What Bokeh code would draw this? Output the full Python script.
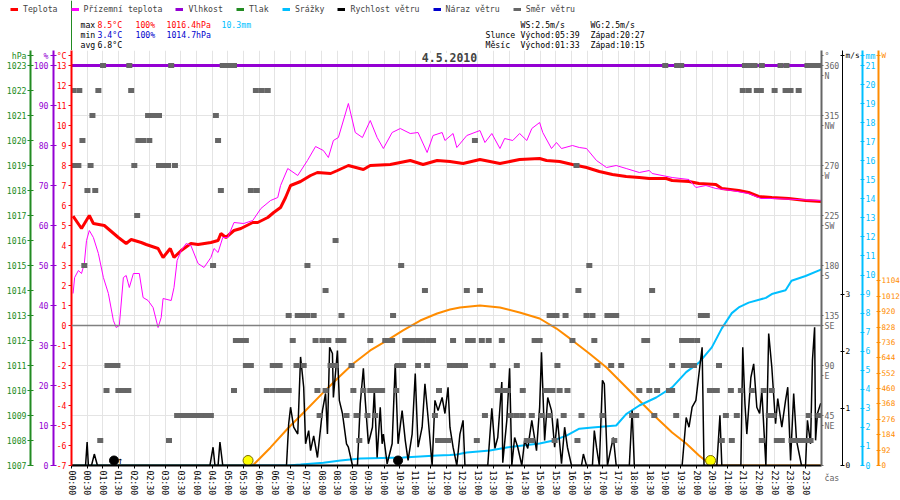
from bokeh.plotting import figure
from bokeh.layouts import column
from bokeh.models import (Range1d, LinearAxis, FixedTicker, Label, Legend, LegendItem,
                          Span, Grid)
from bokeh.embed import file_html
from bokeh.resources import INLINE

FONT = "DejaVu Sans Mono"
FS = "8.2px"

# ---------------- data ----------------
temp_h = [0.05,0.32,0.57,0.70,1.05,1.50,1.75,1.91,2.23,2.39,2.77,2.93,3.16,3.28,3.51,3.82,4.05,4.46,4.69,4.78,
          4.94,5.20,5.42,5.80,5.96,6.28,6.47,6.69,6.85,7.01,7.33,7.65,7.87,8.29,8.51,8.86,9.34,9.56,10.20,10.84,
          11.25,11.70,12.11,12.53,13.07,13.71,14.34,14.98,15.20,15.62,16.03,16.48,16.89,17.31,17.75,18.17,18.49,19.03,19.22,19.76,
          20.08,20.62,20.81,21.35,21.67,21.99,22.41,22.95,23.49,24.0]
temp_c = [5.47,4.85,5.5,5.1,5.0,4.4,4.1,4.3,4.15,4.05,3.85,3.4,3.85,3.4,3.75,4.1,4.05,4.15,4.25,4.6,
          4.4,4.75,4.85,5.15,5.15,5.4,5.65,5.9,6.4,7.0,7.2,7.5,7.65,7.6,7.75,8.0,7.8,8.0,8.05,8.25,
          8.05,8.25,8.2,8.1,8.3,8.1,8.3,8.35,8.25,8.2,8.05,7.9,7.7,7.55,7.45,7.4,7.35,7.35,7.25,7.2,
          7.1,7.05,6.85,6.75,6.65,6.45,6.4,6.35,6.25,6.2]

ground_h = [0.05,0.10,0.22,0.32,0.41,0.48,0.57,0.70,0.86,1.02,1.18,1.34,1.43,1.53,1.66,1.75,1.85,1.98,2.17,2.29,
            2.45,2.61,2.77,2.87,2.93,3.19,3.28,3.38,3.51,3.67,3.82,4.05,4.24,4.46,4.56,4.69,4.84,5.00,5.20,5.51,
            5.80,6.06,6.37,6.60,6.69,6.92,7.24,7.55,7.81,8.06,8.22,8.38,8.54,8.86,9.08,9.31,9.56,9.78,9.98,10.26,
            10.52,10.84,11.09,11.38,11.57,11.86,11.95,12.21,12.33,12.65,13.07,13.23,13.45,13.71,13.86,14.12,14.34,14.57,14.73,14.98,
            15.08,15.36,15.52,15.68,16.03,16.25,16.48,16.80,17.12,17.43,17.75,18.17,18.49,18.58,19.22,19.76,19.98,20.30,20.62,21.13,
            21.67,22.06,22.41,24.0]
ground_c = [1.6,2.4,2.75,2.6,3.1,4.25,4.75,4.4,3.6,2.4,1.6,0.25,-0.1,0.0,2.4,2.5,1.9,2.6,2.6,1.4,
            1.25,0.9,-0.1,0.4,1.35,1.25,1.9,3.25,3.75,4.1,4.0,3.1,2.9,3.4,3.85,3.65,4.4,4.4,5.15,5.1,
            5.25,5.85,6.25,6.4,7.0,7.85,7.5,8.25,8.95,8.75,8.4,9.25,9.4,11.1,9.65,9.4,10.25,9.4,8.85,9.65,
            9.85,9.6,9.65,8.65,9.5,9.65,9.25,9.6,8.9,9.5,9.75,9.15,9.6,8.85,9.35,9.25,9.6,9.25,9.85,10.15,
            9.65,8.85,9.15,8.85,9.0,8.9,8.85,8.25,7.9,8.0,7.85,7.65,7.75,7.6,7.4,7.3,6.9,7.0,6.85,6.75,
            6.6,6.35,6.35,6.25]

humidity_h = [0.0, 24.0]
humidity_pct = [100, 100]

rain_h = [0,6.92,7.33,8.06,8.61,9.24,10.61,11.70,12.11,12.33,12.65,13.39,13.93,14.98,15.39,15.84,16.25,16.67,17.43,17.75,
          18.17,18.71,19.22,19.67,20.08,20.49,20.81,21.13,21.35,21.67,22.22,22.41,22.85,23.04,23.49,24.0]
rain_mm = [0,0,0.05,0.15,0.26,0.37,0.42,0.52,0.55,0.58,0.68,0.79,0.95,1.15,1.3,1.57,1.93,2.0,2.1,2.7,
           3.15,3.57,4.1,4.9,5.4,6.2,7.2,8.0,8.3,8.55,8.8,9.0,9.2,9.7,9.95,10.3]

solar_h = [0,5.67,5.80,6.37,6.92,7.43,8.06,8.51,9.02,9.56,10.10,10.61,11.16,11.70,12.11,12.43,13.07,13.71,14.34,14.98,
           15.52,16.03,16.57,17.12,17.63,18.17,18.71,19.22,19.67,20.08,20.40,20.49,24.0]
solar_w = [0,0,0,108,221,317,437,520,610,688,748,808,867,909,933,945,957,945,915,879,
           819,748,670,586,490,389,287,197,132,60,12,0,0]

wind_h = [0,0.45,0.50,0.54,0.64,0.73,0.83,4.43,4.53,4.59,
          4.69,4.75,4.84,6.88,6.95,7.01,7.11,7.24,7.33,7.43,
          7.49,7.59,7.65,7.75,7.87,8.03,8.13,8.19,8.26,8.35,
          8.38,8.51,8.57,8.67,8.70,8.80,8.86,8.99,9.15,9.24,
          9.34,9.40,9.50,9.63,9.69,9.78,9.88,9.94,9.98,10.10,
          10.26,10.36,10.45,10.58,10.68,10.77,10.90,11.00,11.09,11.22,
          11.31,11.41,11.54,11.63,11.73,11.86,11.95,12.05,12.11,12.21,
          12.33,12.43,12.53,12.59,13.32,13.45,13.55,13.64,13.77,13.80,
          13.93,14.02,14.09,14.18,14.28,14.41,14.50,14.60,14.73,14.88,
          14.98,15.04,15.14,15.24,15.36,15.46,15.55,15.68,15.78,15.87,
          16.00,16.32,16.38,16.48,16.67,16.73,16.80,16.89,16.99,17.05,
          17.15,17.27,17.34,17.43,17.85,17.94,18.01,19.54,19.67,19.76,
          19.86,19.98,20.08,20.18,20.24,20.65,20.75,20.81,21.42,21.48,
          21.55,21.61,21.74,21.83,21.93,22.02,22.09,22.22,22.31,22.41,
          22.53,22.60,22.73,22.85,22.92,23.01,23.11,23.20,23.36,23.49,
          23.55,23.65,23.71,23.78,23.81,23.87,23.97,24.0]
wind_ms = [0,0,0.41,0,0,0.2,0,0,0.32,0,
           0,0.41,0,0,0.73,1.02,0.67,0.55,1.9,1.37,
           0.38,0.61,0.26,0.52,0.14,0.96,1.26,0.55,2.07,1.96,
           1.19,2.01,1.14,0.91,0.79,0.38,0.32,0,0,1.08,
           1.7,1.14,0.38,0.67,1.31,0.14,1.02,0.38,0.55,0.03,
           0.38,1.78,0.38,0.96,0.44,0.09,0.55,1.61,0.32,0.67,
           1.43,0.84,0,1.14,0.96,1.19,0.91,1.37,0.67,0.32,
           0,0.55,0.79,0,0,1.0,0.3,0.49,1.46,0.05,
           0.79,1.7,0,0.49,0.32,0,0.44,0.3,0.79,0.26,
           1.02,1.98,0.44,1.19,0.96,0.32,0.82,0.03,0.67,0.32,
           0,0,0.2,0,0,0.61,0.32,0,1.49,1.43,
           0,0.32,0.49,0,0,0.96,0,0,0.84,0.67,
           1.02,1.14,1.61,2.07,0,0,0.88,0,0,2.07,
           1.08,0.55,1.54,1.78,1.02,0.91,1.31,0,2.31,1.72,
           0.73,1.17,0.67,1.14,1.37,0.09,1.26,0.44,0,0,
           0.79,0.38,1.84,2.42,0.44,0.91,1.08,1.08]

# wind direction samples: compass direction (deg) -> times (h)
wind_dir_times = {
    360.0: [1.01,1.85,3.19,4.84,4.97,5.10,5.20,19.00,19.38,19.51,21.55,21.71,21.86,22.09,22.69,22.88,23.55,23.68,23.84,23.97],
    337.5: [0.06,0.25,0.86,1.91,5.90,6.09,6.28,21.48,21.67,21.93,22.06,22.50,22.85,23.01,23.27],
    315.0: [0.67,2.45,2.61,2.80,4.62],
    292.5: [0.35,2.14,2.29,2.49,4.69,12.91],
    270.0: [0.06,0.22,0.61,2.01,2.80,2.96,3.09,3.31,16.16],
    247.5: [0.51,0.76,4.78,5.74,5.93],
    225.0: [2.10],
    202.5: [8.45],
    180.0: [0.41,4.53,7.55,10.55,16.57],
    157.5: [8.13,11.31,12.65,13.07,16.22,18.58],
    135.0: [6.95,7.24,7.40,7.55,7.75,8.64,10.29,15.30,15.43,15.52,15.81,16.48,16.67,17.15,17.31,17.43,20.14,20.24,20.33],
    112.5: [5.26,5.42,5.58,7.08,7.81,8.03,8.22,8.54,8.70,9.56,10.04,10.17,10.26,10.68,10.84,10.96,11.09,11.22,11.41,11.57,
            12.21,12.69,12.84,13.13,13.35,13.77,14.82,14.98,16.03,16.73,18.33,18.42,19.54,19.70,19.83,20.02],
    90.0: [1.15,1.31,1.47,5.58,5.74,6.44,6.57,6.66,7.20,7.43,8.29,8.45,8.96,10.45,10.61,11.09,11.38,12.11,12.27,12.43,
           12.59,13.48,14.25,15.55,16.83,17.27,17.59,19.22,19.60,19.76,19.92,20.72],
    67.5: [1.12,1.50,1.66,1.82,5.20,6.25,6.44,6.63,6.79,6.95,7.87,8.13,9.02,9.34,9.56,9.69,9.82,9.94,10.39,11.76,
           13.64,13.80,13.96,14.44,15.17,15.30,15.39,15.62,15.87,18.17,18.49,18.74,19.12,19.22,20.43,20.56,20.65,21.10,21.42,21.77,
           22.15,22.41],
    45.0: [3.38,3.54,3.70,3.86,4.02,4.18,4.33,4.46,7.94,8.80,9.12,9.47,9.72,11.63,13.23,14.06,14.25,14.44,14.73,15.04,
           15.30,15.75,16.32,16.99,17.94,18.07,18.65,19.35,20.94,21.29,22.31,22.47,23.59,23.90],
    22.5: [0.92,3.12,9.21,11.73,11.89,12.05,12.97,14.57,14.73,15.46,16.19,17.37,20.81,21.13,22.09,22.57,22.73,23.04,23.20,23.36,
           23.52,23.65],
}

sun_events_h = [5.65, 20.45]      # sunrise 05:39, sunset 20:27 markers
moon_icon_h = [1.36, 10.45]       # moon markers as drawn
moonrise_h = 1.55                 # 01:33 arrow

hpa_ticks = list(range(1007, 1024))
hum_ticks = list(range(0, 101, 10))
temp_ticks = list(range(-7, 14))
dir_ticks = [45, 90, 135, 180, 225, 270, 315, 360]
dir_names = ["NE", "E", "SE", "S", "SW", "W", "NW", "N"]
wind_ticks = [0, 1, 2, 3]
mm_ticks = list(range(0, 22))
sun_ticks = list(range(0, 1105, 92))
time_ticks = [i * 0.5 for i in range(48)]
time_labels = ["%02d:%02d" % (int(t), int(round((t % 1) * 60))) for t in time_ticks]

legend_names = ["Teplota", "Přízemní teplota", "Vlhkost", "Tlak", "Srážky",
                "Rychlost větru", "Náraz větru", "Směr větru"]

# ---------------- colours ----------------
RED = "#ff0000"; MAG = "#ff00ff"; PURP = "#9400d3"; GREEN = "#228b22"
CYAN = "#00bfff"; BLACK = "#000000"; BLUE = "#0000cd"; GRAY = "#666666"
ORANGE = "#ff8c00"

# ---------------- geometry ----------------
HEAD_H = 50          # header strip (legend + stats)
DATA_H = 400         # px of the value scales
EXTRA = 15           # px of frame above the top of the scales
FRAME_W = 750
FRAME_H = DATA_H + EXTRA
BL, BR, BB = 71, 79, 35


def top(lo, hi, px=EXTRA):
    return hi + px * (hi - lo) / DATA_H


# ---------------- main figure ----------------
p = figure(frame_width=FRAME_W, frame_height=FRAME_H, output_backend="svg", toolbar_location=None,
           x_range=Range1d(0, 24), y_range=Range1d(-7, top(-7, 13)),
           min_border_left=BL, min_border_right=BR, min_border_top=0, min_border_bottom=BB,
           background_fill_color="white", border_fill_color="white", outline_line_color=None)
p.frame_align = False
p.extra_y_ranges = {
    "hum": Range1d(0, top(0, 100)),
    "hpa": Range1d(1007, top(1007, 1023)),
    "dir": Range1d(0, top(0, 360)),
    "wind": Range1d(0, top(0, 7)),
    "mm": Range1d(0, top(0, 21)),
    "sun": Range1d(0, top(0, 2392)),
}
HDR = 10  # unit captions sit 10 px above the top of the scales


def style_axis(ax, color, ticks, labels, tin=0, tout=3, standoff=1, lw=1, tick_color=None, fs=FS):
    ax.ticker = FixedTicker(ticks=ticks)
    ax.major_label_overrides = labels
    ax.axis_line_color = color
    ax.axis_line_width = lw
    ax.major_tick_line_color = color if tick_color is None else tick_color
    ax.major_tick_in = tin
    ax.major_tick_out = tout
    ax.minor_tick_line_color = None
    ax.minor_tick_in = 0
    ax.minor_tick_out = 0
    ax.major_label_text_color = color
    ax.major_label_text_font = FONT
    ax.major_label_text_font_size = fs
    ax.major_label_standoff = standoff


def ticks_with_caption(ticks, fmt, lo, hi, caption):
    cap = top(lo, hi, HDR)
    labels = {t: fmt % t for t in ticks}
    labels[cap] = caption
    return ticks + [cap], labels


# left axes (innermost first)
tt, tl = ticks_with_caption(temp_ticks, "%d", -7, 13, "°C")
style_axis(p.yaxis[0], RED, tt, tl, tin=0, tout=3, standoff=2, lw=2)
ax_h = LinearAxis(y_range_name="hum")
ht, hl = ticks_with_caption(hum_ticks, "%d", 0, 100, "%")
style_axis(ax_h, PURP, ht, hl, tin=3, tout=3, standoff=2, lw=2)
p.add_layout(ax_h, "left")
ax_p = LinearAxis(y_range_name="hpa")
pt, pl = ticks_with_caption(hpa_ticks, "%d", 1007, 1023, "hPa")
style_axis(ax_p, GREEN, pt, pl, tin=3, tout=3, standoff=1, lw=2)
p.add_layout(ax_p, "left")

# right axes
ax_d = LinearAxis(y_range_name="dir")
d_off = 10 * 360 / DATA_H
dt = list(dir_ticks) + [d - d_off for d in dir_ticks] + [top(0, 360, HDR), 0]
dl = {d: "%d" % d for d in dir_ticks}
for d, nm in zip(dir_ticks, dir_names):
    dl[d - d_off] = nm
dl[top(0, 360, HDR)] = "°"
dl[0] = " \n \nčas"
style_axis(ax_d, GRAY, dt, dl, tin=0, tout=2, standoff=1, lw=2, tick_color=None)
p.add_layout(ax_d, "right")
ax_w = LinearAxis(y_range_name="wind")
wt, wl = ticks_with_caption(wind_ticks, "%d", 0, 7, "m/s")
style_axis(ax_w, BLACK, wt, wl, tin=2, tout=2, standoff=1, lw=1, fs="7.8px")
p.add_layout(ax_w, "right")
ax_m = LinearAxis(y_range_name="mm")
mt, ml = ticks_with_caption(mm_ticks, "%d", 0, 21, "mm")
style_axis(ax_m, CYAN, mt, ml, tin=2, tout=2, standoff=1, lw=2)
p.add_layout(ax_m, "right")
ax_s = LinearAxis(y_range_name="sun")
st, sl = ticks_with_caption(sun_ticks, "%d", 0, 2392, "W")
style_axis(ax_s, ORANGE, st, sl, tin=2, tout=2, standoff=1, lw=2, fs="7.6px")
p.add_layout(ax_s, "right")

# x axis
ax_x = p.xaxis[0]
style_axis(ax_x, BLACK, time_ticks, dict(zip(time_ticks, time_labels)), tin=0, tout=3, standoff=2, lw=2)
ax_x.major_label_orientation = "vertical"

# grids
p.xgrid.ticker = FixedTicker(ticks=time_ticks)
p.xgrid.grid_line_color = "#e4e4e4"
p.ygrid.visible = False
p.add_layout(Grid(dimension=1, ticker=FixedTicker(ticks=dir_ticks[:-1]), y_range_name="dir",
                  grid_line_color="#e4e4e4"))
p.add_layout(Span(location=0, dimension="width", line_color="#808080", line_width=1.5))

# series
p.line(solar_h, solar_w, y_range_name="sun", line_color=ORANGE, line_width=2)
p.line(rain_h, rain_mm, y_range_name="mm", line_color=CYAN, line_width=2)
p.line(wind_h, wind_ms, y_range_name="wind", line_color=BLACK, line_width=1.5)
p.line(temp_h, temp_c, line_color=RED, line_width=3)
p.line(ground_h, ground_c, line_color=MAG, line_width=1)
p.line(humidity_h, humidity_pct, y_range_name="hum", line_color=PURP, line_width=3)
for deg, hrs in wind_dir_times.items():
    p.rect(x=hrs, y=[deg] * len(hrs), width=6, height=5, width_units="screen",
           height_units="screen", y_range_name="dir", fill_color=GRAY, line_color=None)

ICON_Y = 7 * 5 / DATA_H
p.scatter(sun_events_h, [ICON_Y] * len(sun_events_h), y_range_name="wind", size=10,
          fill_color="#ffff00", line_color="#7a6a00", line_width=1)
p.scatter(moon_icon_h, [ICON_Y] * len(moon_icon_h), y_range_name="wind", size=9,
          fill_color=BLACK, line_color=BLACK)
p.add_layout(Label(x=moonrise_h, y=5, y_units="screen", text="↑", text_color=BLACK,
                   text_font=FONT, text_font_size="10px", text_align="center",
                   text_baseline="middle"))

# date title (inside the frame strip above the scales)
p.add_layout(Label(x=378, y=DATA_H + 8, x_units="screen", y_units="screen",
                   text="4.5.2010", text_font=FONT, text_font_size="11.5px",
                   text_font_style="bold", text_align="center", text_baseline="middle",
                   background_fill_color="white"))

# ---------------- header figure (legend + statistics) ----------------
W_TOTAL = BL + FRAME_W + BR
h = figure(width=W_TOTAL, height=HEAD_H, output_backend="svg", toolbar_location=None,
           x_range=Range1d(0, W_TOTAL), y_range=Range1d(HEAD_H, 0),
           x_axis_type=None, y_axis_type=None, min_border=0,
           background_fill_color="white", border_fill_color="white", outline_line_color=None)
h.frame_align = False
h.xgrid.visible = False
h.ygrid.visible = False
h.add_layout(Span(location=BL, dimension="height", line_color=GREEN, line_width=1))

leg_colors = [RED, MAG, PURP, GREEN, CYAN, BLACK, BLUE, GRAY]
items = []
for name, col in zip(legend_names, leg_colors):
    # swatch-only renderer: its points lie outside the visible header range
    r = h.line([-50, -40], [-50, -40], line_color=col, line_width=3)
    items.append(LegendItem(label=name, renderers=[r]))
legend = Legend(items=items, orientation="horizontal", location=(10, HEAD_H - 14),
                label_text_font=FONT, label_text_font_size=FS, glyph_width=8, glyph_height=8,
                label_height=8, label_standoff=5, spacing=13, padding=0, margin=0,
                border_line_color=None, background_fill_alpha=0)
h.add_layout(legend)


def txt(x, y, s, color=BLACK):
    h.add_layout(Label(x=x, y=y, text=s, text_color=color, text_font=FONT,
                       text_font_size=FS, text_align="left", text_baseline="middle"))


txt(80, 24, "max"); txt(97, 24, "8.5°C", RED); txt(135, 24, "100%", RED)
txt(166, 24, "1016.4hPa", RED); txt(221, 24, "10.3mm", CYAN)
txt(80, 34, "min"); txt(97, 34, "3.4°C", BLUE); txt(135, 34, "100%", BLUE)
txt(166, 34, "1014.7hPa", BLUE)
txt(80, 44, "avg"); txt(97, 44, "6.8°C")
txt(520, 24, "WS:2.5m/s"); txt(590, 24, "WG:2.5m/s")
txt(485, 34, "Slunce"); txt(520, 34, "Východ:05:39"); txt(590, 34, "Západ:20:27")
txt(485, 44, "Měsíc"); txt(520, 44, "Východ:01:33"); txt(590, 44, "Západ:10:15")

layout = column(h, p, spacing=0)
open("out.html", "w").write(file_html(layout, INLINE))
